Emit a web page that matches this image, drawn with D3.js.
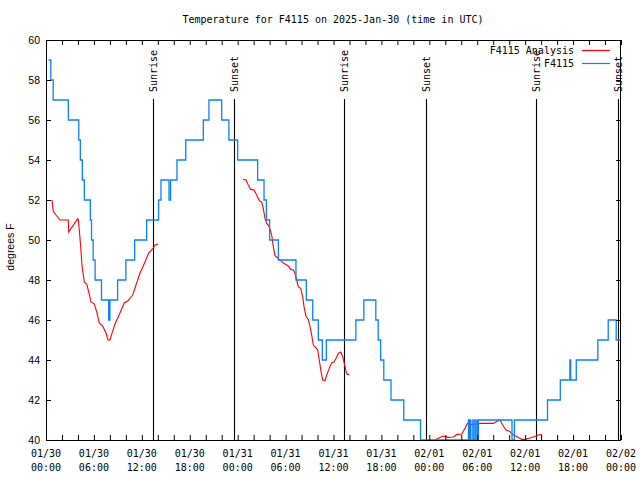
<!DOCTYPE html>
<html><head><meta charset="utf-8">
<script src="https://cdn.jsdelivr.net/npm/d3@7"></script>
<style>
html,body{margin:0;padding:0;background:#fff;}
svg text{font-family:"DejaVu Sans Mono",monospace;}
</style></head>
<body><svg id="c" width="640" height="480"></svg>
<script>
// ---- data (hours since 2025-01-30 00:00 UTC) ----
const titleText = "Temperature for F4115 on 2025-Jan-30 (time in UTC)";
const yLabel = "degrees F";
const seriesNames = ["F4115 Analysis", "F4115"];
const yTicks = [40, 42, 44, 46, 48, 50, 52, 54, 56, 58, 60];

// Observations (F4115), step changes
const obsHours = [0.33,0.6,0.9,2.8,4.1,4.3,4.55,4.8,5.55,5.7,5.9,6.15,6.95,7.85,8.0,8.97,10.0,11.1,12.6,14.1,14.4,15.4,15.6,16.4,17.5,19.7,20.4,22.0,22.9,24.0,26.5,27.3,27.6,28.0,29.1,31.3,32.6,33.4,34.1,34.6,35.1,38.8,39.8,41.3,41.6,41.9,42.3,43.2,44.8,46.9,52.9,53.05,53.15,53.2,53.45,53.5,53.7,53.75,53.95,54.0,54.15,58.35,58.65,62.8,64.4,65.6,65.7,66.4,69.1,70.4,71.4,72.0];
const obsTemps = [59,58,57,56,55,54,53,52,51,50,49,48,47,46,47,48,49,50,51,52,53,52,53,54,55,56,57,56,55,54,53,52,51,50,49,48,47,46,45,44,45,46,47,46,45,44,43,42,41,40,41,40,41,40,41,40,41,40,41,40,41,40,41,42,43,44,43,44,45,46,45,45];

// Analysis (F4115 Analysis); null marks a gap
const anaHours = [0.75,0.91,1.25,1.75,2.79,2.84,3.97,4.05,4.17,4.34,4.51,4.8,5.1,5.35,5.63,6.05,6.35,6.68,7.1,7.51,7.76,8.01,8.26,8.68,9.1,9.8,10.23,10.86,11.27,11.77,12.18,12.86,13.36,13.65,14.06,
  null,
  24.71,25.04,25.33,25.63,26.05,26.38,26.71,27.01,27.21,27.42,27.64,27.96,28.26,28.46,28.68,28.89,29.21,29.51,29.93,30.34,30.64,30.97,31.18,31.39,31.59,31.89,32.14,32.31,32.56,32.85,33.06,33.27,33.47,33.77,34.02,34.22,34.44,34.65,34.94,35.15,35.47,35.78,36.06,36.31,36.6,36.9,37.15,37.35,37.57,37.73,37.98,
  null,
  48.71,49.34,49.75,50.38,51.0,51.43,52.05,52.47,52.76,53.09,53.72,54.56,56.01,56.44,56.85,57.19,57.6,58.1,58.51,58.94,59.57,59.98,60.61,61.23,61.65,62.07];
const anaTemps = [52.0,51.45,51.25,51.0,51.0,50.4,51.07,51.0,50.5,49.7,48.7,47.9,47.8,47.4,46.9,46.8,46.4,45.85,45.7,45.35,45.0,45.0,45.33,45.85,46.2,46.85,46.95,47.25,47.75,48.35,48.7,49.35,49.55,49.75,49.8,
  null,
  53.03,53.0,52.75,52.53,52.5,52.25,51.97,51.9,51.58,51.08,50.83,50.67,50.25,49.67,49.22,49.15,49.03,48.92,48.8,48.7,48.53,48.5,48.33,48.0,47.67,47.58,47.17,46.67,46.17,46.03,45.67,45.25,44.75,44.62,44.5,44.0,43.42,43.0,42.97,43.25,43.58,43.87,43.9,44.08,44.33,44.4,44.17,43.83,43.42,43.28,43.28,
  null,
  40.0,40.13,40.2,40.13,40.15,40.27,40.3,40.58,40.83,40.77,40.8,40.83,40.83,40.92,41.0,40.75,40.5,40.42,40.25,40.17,40.03,40.03,40.1,40.17,40.25,40.28];

const sunEventHours = [13.44, 23.58, 37.35, 47.58, 61.36, 71.59];
const sunEventNames = ["Sunrise","Sunset","Sunrise","Sunset","Sunrise","Sunset"];

// ---- layout ----
const L = 46, R = 621, T = 40, B = 440;
const t0 = Date.UTC(2025, 0, 30, 0, 0);
const toDate = h => new Date(t0 + h * 3600e3);

const svg = d3.select("#c");
const x = d3.scaleUtc().domain([toDate(0), toDate(72)]).range([L, R]);
const y = d3.scaleLinear().domain([40, 60]).range([B, T]);

svg.append("defs").append("clipPath").attr("id","pc")
  .append("rect").attr("x", L).attr("y", T).attr("width", R - L).attr("height", B - T);

// title
svg.append("text").attr("x", 333).attr("y", 23).attr("text-anchor","middle")
  .attr("font-size", "10px").attr("fill","#000").text(titleText);

// y label
svg.append("text").attr("transform","translate(14,247) rotate(-90)")
  .attr("text-anchor","middle").attr("font-size","10.5px")
  .style("font-family","'Liberation Sans', Arial, sans-serif").text(yLabel);

// sunrise / sunset lines
const sunG = svg.append("g");
sunEventHours.forEach((h, i) => {
  const xp = Math.round(x(toDate(h))) + 0.5;
  sunG.append("line").attr("x1", xp).attr("x2", xp).attr("y1", 99).attr("y2", B)
    .attr("stroke","#000").attr("stroke-width",1.1);
  sunG.append("text").attr("transform",`translate(${xp},92) rotate(-90)`)
    .attr("dy","0.36em").attr("font-size","10px").text(sunEventNames[i]);
});

// series
const g = svg.append("g").attr("clip-path","url(#pc)");
const obs = obsHours.map((h,i)=>[toDate(h), obsTemps[i]]);
const ana = anaHours.map((h,i)=>[h===null?null:toDate(h), anaTemps[i]]);

g.append("path").datum(ana)
  .attr("d", d3.line().defined(d=>d[0]!==null && d[1]!==null).x(d=>x(d[0])).y(d=>y(d[1])))
  .attr("fill","none").attr("stroke","#ff0000").attr("stroke-width",1.1);

g.append("path").datum(obs)
  .attr("d", d3.line().curve(d3.curveStepAfter).x(d=>x(d[0])).y(d=>y(d[1])))
  .attr("fill","none").attr("stroke","#0a80ff").attr("stroke-width",1.3);

// axes (ticks inward, mirrored)
const fmtDay = d3.utcFormat("%m/%d"), fmtHour = d3.utcFormat("%H:%M");
const majors = d3.utcHour.every(6).range(toDate(0), toDate(72.01));
const minors = d3.utcHour.every(2).range(toDate(0), toDate(72.01));

const axB = svg.append("g").attr("transform",`translate(0,${B})`)
  .call(d3.axisBottom(x).tickValues(minors).tickSize(-5).tickFormat(""));
const axT = svg.append("g").attr("transform",`translate(0,${T})`)
  .call(d3.axisTop(x).tickValues(minors).tickSize(-5).tickFormat(""));
const axL = svg.append("g").attr("transform",`translate(${L},0)`)
  .call(d3.axisLeft(y).tickValues(yTicks).tickSize(-5).tickFormat(""));
const axR = svg.append("g").attr("transform",`translate(${R},0)`)
  .call(d3.axisRight(y).tickValues(yTicks).tickSize(-5).tickFormat(""));
[axB,axT,axL,axR].forEach(a=>{
  a.select(".domain").remove();
  a.selectAll("line").attr("stroke","#000");
});

// border
svg.append("rect").attr("x",L+0.5).attr("y",T+0.5).attr("width",R-L-1).attr("height",B-T)
  .attr("fill","none").attr("stroke","#000").attr("stroke-width",1);

// x tick labels
const xl = svg.append("g");
majors.forEach(d=>{
  const t = xl.append("text").attr("x", x(d)).attr("y", 457).attr("text-anchor","middle").attr("font-size","10px");
  t.append("tspan").attr("x", x(d)).text(fmtDay(d));
  t.append("tspan").attr("x", x(d)).attr("dy", 14).text(fmtHour(d));
});

// y tick labels
svg.append("g").selectAll("text").data(yTicks).join("text")
  .attr("x", 40).attr("y", d=>y(d)).attr("dy","0.35em").attr("text-anchor","end")
  .attr("font-size","10.5px").style("font-family","'Liberation Sans', Arial, sans-serif")
  .text(d=>d);

// legend
const legColors = ["#ff0000","#0a80ff"];
seriesNames.forEach((n,i)=>{
  const ly = 50 + i*13;
  svg.append("text").attr("x",574).attr("y",ly).attr("dy","0.35em").attr("text-anchor","end")
    .attr("font-size","10px").text(n);
  svg.append("line").attr("x1",582).attr("x2",610).attr("y1",ly+0.5).attr("y2",ly+0.5)
    .attr("stroke",legColors[i]).attr("stroke-width",1.2);
});
</script></body></html>
